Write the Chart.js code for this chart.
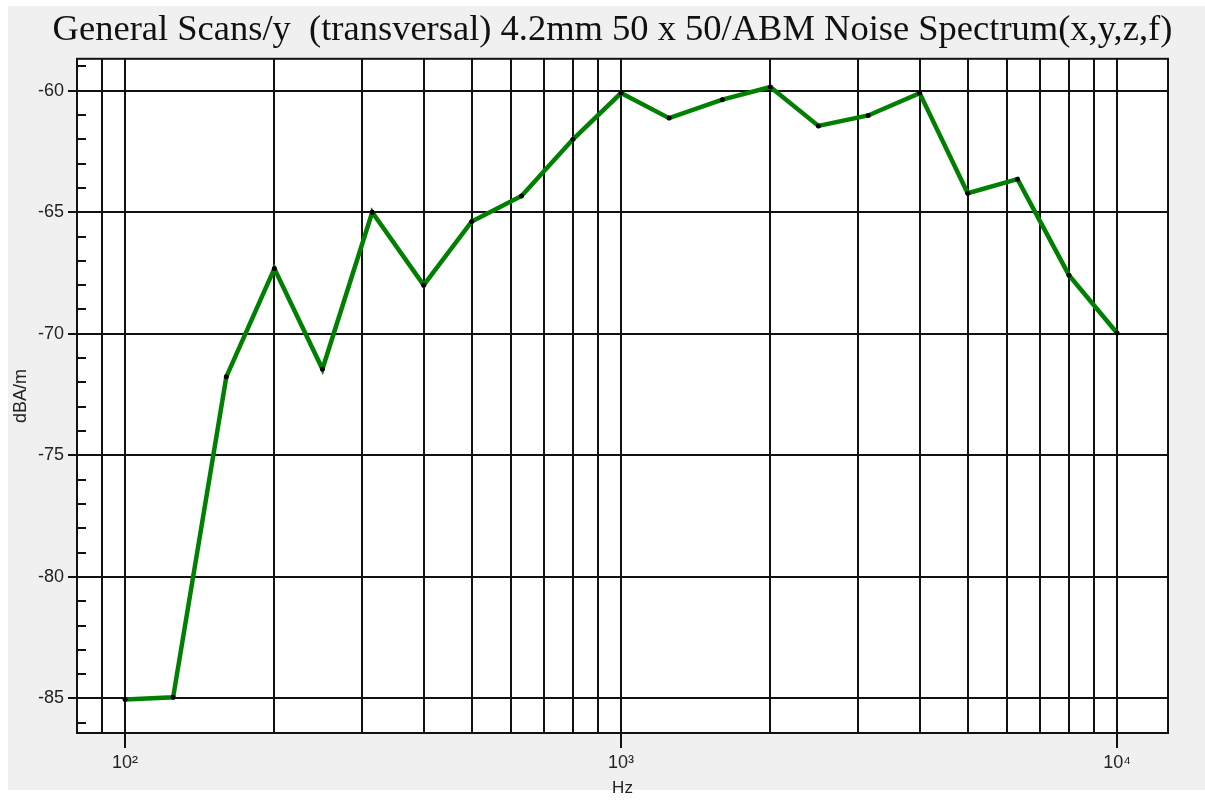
<!DOCTYPE html>
<html>
<head>
<meta charset="utf-8">
<script src="https://cdn.jsdelivr.net/npm/chart.js@4.4.1/dist/chart.umd.min.js"></script>
<style>
  html, body { margin: 0; padding: 0; background: #fff; }
  #wrap { width: 1205px; height: 800px; }
</style>
</head>
<body>
<div id="wrap"><canvas id="spectrum" width="1205" height="800"></canvas></div>
<script>
// 1/3 octave band centre frequencies and measured level
var freqs = [100, 125, 160, 200, 250, 315, 400, 500, 630, 800, 1000, 1250, 1600, 2000, 2500, 3150, 4000, 5000, 6300, 8000, 10000];
var levels = [-85.04, -84.95, -71.77, -67.32, -71.45, -65.0, -68.0, -65.38, -64.33, -62.0, -60.1, -61.13, -60.37, -59.85, -61.45, -61.02, -60.1, -64.22, -63.64, -67.59, -69.97];

// grid / ticks
var xGrid = [90, 100, 200, 300, 400, 500, 600, 700, 800, 900, 1000, 2000, 3000, 4000, 5000, 6000, 7000, 8000, 9000, 10000];
var xLabels = { 100: '10\u00b2', 1000: '10\u00b3', 10000: '10\u2074' };
var yTicks = [-85, -80, -75, -70, -65, -60];

var titleText = 'General Scans/y  (transversal) 4.2mm 50 x 50/ABM Noise Spectrum(x,y,z,f)';

var points = [];
for (var i = 0; i < freqs.length; i++) {
    points.push({ x: freqs[i], y: levels[i] });
}

// panel background, white plot area, frame and minor y ticks
var framePlugin = {
    id: 'frame',
    beforeDraw: function(chart) {
        var c = chart.ctx, a = chart.chartArea;
        c.save();
        c.fillStyle = '#ffffff';
        c.fillRect(0, 0, chart.width, chart.height);
        c.fillStyle = '#f0f0f0';
        c.fillRect(8, 6, chart.width - 8, chart.height - 16);
        c.fillStyle = '#ffffff';
        c.fillRect(a.left, a.top, a.right - a.left, a.bottom - a.top);
        c.restore();
    },
    afterDatasetsDraw: function(chart) {
        var c = chart.ctx, a = chart.chartArea, ys = chart.scales.y;
        c.save();
        c.strokeStyle = '#111';
        c.lineWidth = 2;
        for (var v = Math.ceil(ys.min); v <= Math.floor(ys.max); v++) {
            if (v % 5 === 0) continue;
            var py = Math.round(ys.getPixelForValue(v));
            c.beginPath();
            c.moveTo(a.left, py);
            c.lineTo(a.left + 9, py);
            c.stroke();
        }
        c.strokeRect(a.left, a.top, a.right - a.left, a.bottom - a.top);
        c.restore();
    }
};

new Chart(document.getElementById('spectrum'), {
    type: 'line',
    data: {
        datasets: [{
            data: points,
            borderColor: '#008000',
            borderWidth: 4.5,
            pointRadius: 2.5,
            pointBackgroundColor: '#000',
            pointBorderWidth: 0,
            fill: false,
            tension: 0
        }]
    },
    options: {
        responsive: false,
        animation: false,
        layout: { padding: { left: 20, right: 0, top: 0, bottom: 0 } },
        plugins: {
            legend: { display: false },
            tooltip: { enabled: false },
            title: {
                display: true,
                text: titleText,
                color: '#111',
                font: { family: '"Liberation Serif", "Times New Roman", serif', size: 36.5, weight: 'normal', lineHeight: 1.2 },
                padding: { top: 9, bottom: 6 }
            }
        },
        scales: {
            x: {
                type: 'logarithmic',
                min: 80,
                max: 12670,
                afterBuildTicks: function(scale) {
                    scale.ticks = xGrid.map(function(v) { return { value: v }; });
                },
                afterFit: function(scale) { scale.height = 67; },
                ticks: {
                    autoSkip: false,
                    maxRotation: 0,
                    padding: 4,
                    color: '#222',
                    font: { family: '"Liberation Sans", Arial, sans-serif', size: 18 },
                    callback: function(v) { return xLabels[v] || ''; }
                },
                grid: {
                    color: '#111',
                    lineWidth: 2,
                    tickLength: 15,
                    tickWidth: 2,
                    tickColor: function(ctx) {
                        return (ctx.tick && xLabels[ctx.tick.value]) ? '#111' : 'rgba(0,0,0,0)';
                    }
                },
                border: { display: false },
                title: {
                    display: true,
                    text: 'Hz',
                    color: '#222',
                    font: { family: '"Liberation Sans", Arial, sans-serif', size: 17 },
                    padding: { top: 0, bottom: 1 }
                }
            },
            y: {
                min: -86.42,
                max: -58.69,
                afterBuildTicks: function(scale) {
                    scale.ticks = yTicks.map(function(v) { return { value: v }; });
                },
                afterFit: function(scale) { scale.width = 57; },
                ticks: {
                    padding: 4,
                    color: '#222',
                    font: { family: '"Liberation Sans", Arial, sans-serif', size: 18 }
                },
                grid: {
                    color: '#111',
                    lineWidth: 2,
                    tickLength: 9,
                    tickWidth: 2,
                    tickColor: '#111'
                },
                border: { display: false },
                title: {
                    display: true,
                    text: 'dBA/m',
                    color: '#222',
                    font: { family: '"Liberation Sans", Arial, sans-serif', size: 18 },
                    padding: { top: -10, bottom: 0 }
                }
            },
            // empty right-hand strip so the plot ends where the reference does
            yRight: {
                position: 'right',
                display: true,
                min: -86.42,
                max: -58.69,
                afterFit: function(scale) { scale.width = 37; },
                ticks: { display: false },
                grid: { display: false, drawTicks: false },
                border: { display: false }
            }
        }
    },
    plugins: [framePlugin]
});
</script>
</body>
</html>
